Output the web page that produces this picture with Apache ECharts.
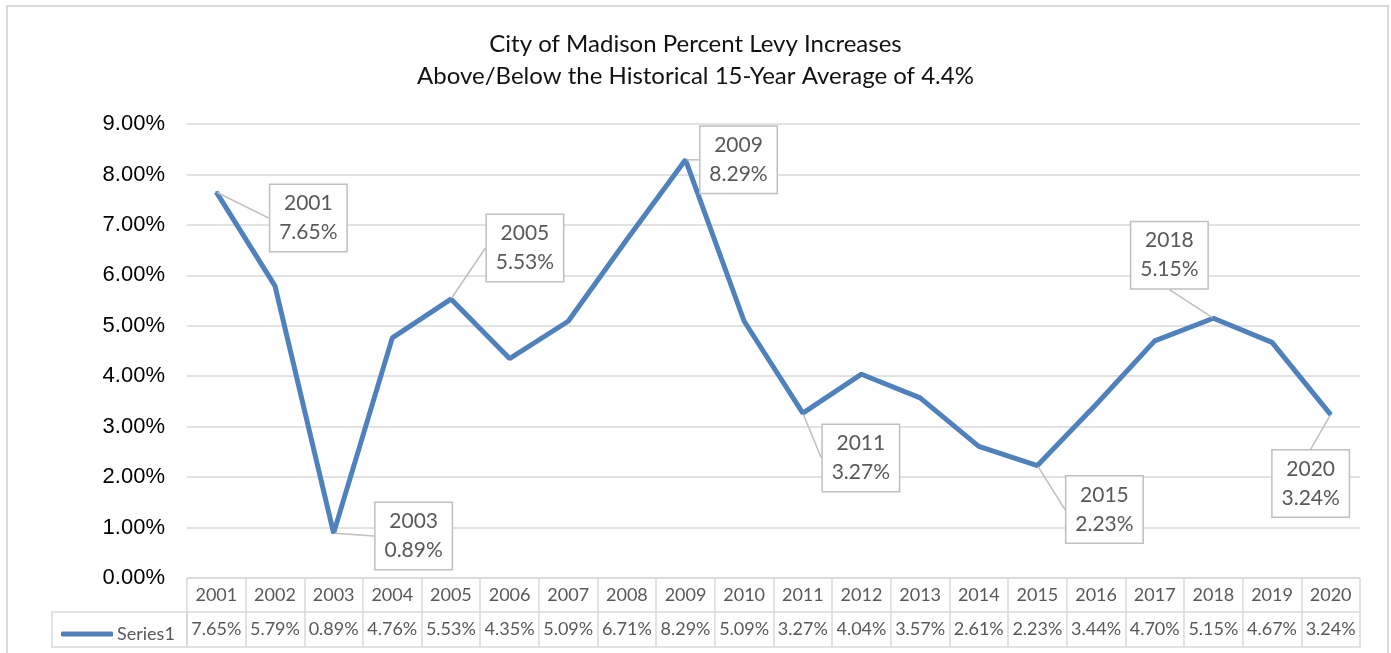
<!DOCTYPE html>
<html>
<head>
<meta charset="utf-8">
<script src="https://cdn.jsdelivr.net/npm/echarts@6/dist/echarts.min.js"></script>
<style>
  html, body { margin: 0; padding: 0; background: #fff; }
  #main { width: 1391px; height: 653px; }
</style>
</head>
<body>
<div id="main"></div>
<script>
var years = ['2001','2002','2003','2004','2005','2006','2007','2008','2009','2010',
             '2011','2012','2013','2014','2015','2016','2017','2018','2019','2020'];
var levy = [7.65, 5.79, 0.89, 4.76, 5.53, 4.35, 5.09, 6.71, 8.29, 5.09,
            3.27, 4.04, 3.57, 2.61, 2.23, 3.44, 4.70, 5.15, 4.67, 3.24];
var calloutYears = ['2001','2003','2005','2009','2011','2015','2018','2020'];
var yTicks = [0, 1, 2, 3, 4, 5, 6, 7, 8, 9];

// where each callout box sits, relative to its point
var calloutOffset = {
  '2001': [92, 26], '2003': [80, 3], '2005': [74, -51], '2009': [53, 0],
  '2011': [58, 45], '2015': [67, 44], '2018': [-44, -63], '2020': [-20, 69]
};

var grey = '#d9d9d9';
var txt = '#595959';
var fontCal = 'Lato, "Open Sans", sans-serif';

function pct(v){ return v.toFixed(2) + '%'; }

var option = {
  animation: false,
  title: {
    text: 'City of Madison Percent Levy Increases\nAbove/Below the Historical 15-Year Average of 4.4%',
    left: 'center',
    top: 23,
    textStyle: { fontFamily: fontCal, fontSize: 24, fontWeight: 'normal', color: '#111', lineHeight: 32 }
  },
  legend: {
    left: 56, top: 620,
    itemWidth: 52, itemHeight: 5, itemGap: 2,
    icon: 'rect',
    textStyle: { fontFamily: fontCal, fontSize: 18, color: txt, padding: [0,0,0,-1] },
    data: [{ name: 'Series1', icon: 'roundRect' }]
  },
  grid: { left: 187, right: 31, top: 124, bottom: 75 },
  graphic: [
    { type: 'rect', shape: { x: 7, y: 6, width: 1381, height: 700 },
      style: { fill: 'none', stroke: grey, lineWidth: 2 }, silent: true },
    { type: 'rect', shape: { x: 52, y: 612, width: 135, height: 35 },
      style: { fill: 'none', stroke: grey, lineWidth: 1.5 }, silent: true }
  ],
  xAxis: [
    {
      type: 'category', data: years, position: 'bottom', boundaryGap: true,
      axisLine: { show: true, lineStyle: { color: grey, width: 1.5 } },
      axisTick: { show: true, interval: 0, length: 69, lineStyle: { color: grey, width: 1.5 } },
      axisLabel: { interval: 0, margin: 8, fontFamily: fontCal, fontSize: 18, color: txt }
    },
    {
      type: 'category', data: levy.map(pct), position: 'bottom', offset: 34,
      axisLine: { show: true, lineStyle: { color: grey, width: 1.5 } },
      axisTick: { show: false },
      axisLabel: { interval: 0, margin: 8, fontFamily: fontCal, fontSize: 18, color: txt }
    },
    {
      type: 'category', data: years, position: 'bottom', offset: 69,
      axisLine: { show: true, lineStyle: { color: grey, width: 1.5 } },
      axisTick: { show: false },
      axisLabel: { show: false }
    }
  ],
  yAxis: {
    type: 'value', min: yTicks[0], max: yTicks[yTicks.length - 1], interval: 1,
    axisLine: { show: false }, axisTick: { show: false },
    splitLine: { lineStyle: { color: grey, width: 1.5 } },
    axisLabel: {
      margin: 22, fontFamily: '"Liberation Sans", Arial, sans-serif', fontSize: 22, color: '#000',
      formatter: function(v){ return pct(v); }
    }
  },
  series: [{
    name: 'Series1',
    type: 'line',
    xAxisIndex: 0,
    symbol: 'circle', symbolSize: 2, showSymbol: true,
    lineStyle: { color: '#4f81bd', width: 5 },
    itemStyle: { color: '#4f81bd' },
    data: levy.map(function(v, i){
      return { value: v, label: { show: calloutYears.indexOf(years[i]) >= 0 } };
    }),
    label: {
      formatter: function(p){ return p.name + '\n' + pct(p.value); },
      fontFamily: fontCal, fontSize: 21, lineHeight: 29, color: txt,
      backgroundColor: '#fff', borderColor: '#bfbfbf', borderWidth: 1.5,
      padding: [4, 6], width: 64, align: 'center'
    },
    labelLine: { show: true, smooth: false, lineStyle: { color: '#bfbfbf', width: 1.5 } },
    labelLayout: function(p){
      var off = calloutOffset[years[p.dataIndex]];
      if (!off) return {};
      return {
        x: p.rect.x + p.rect.width / 2 + off[0],
        y: p.rect.y + p.rect.height / 2 + off[1],
        align: 'center', verticalAlign: 'middle'
      };
    }
  }]
};

var chart = echarts.init(document.getElementById('main'));
chart.setOption(option);
</script>
</body>
</html>
